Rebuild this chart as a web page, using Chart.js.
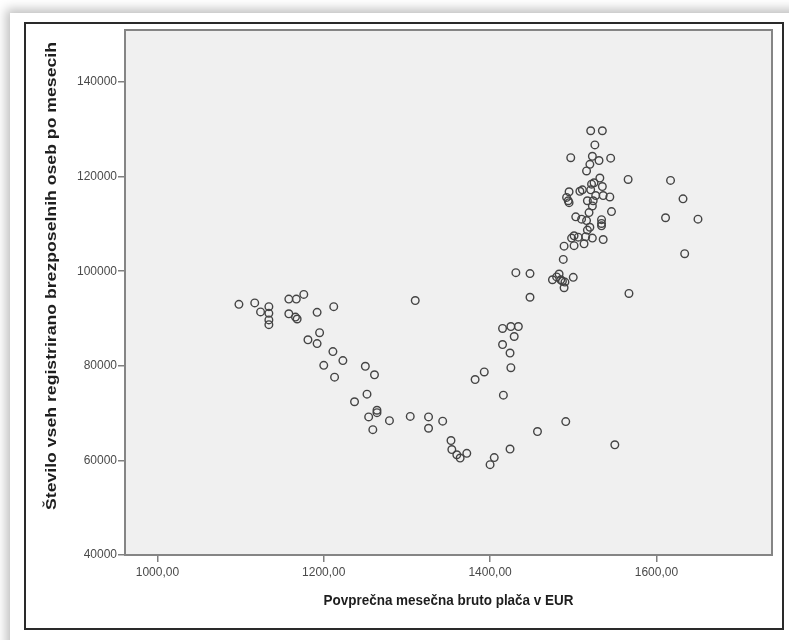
<!DOCTYPE html>
<html>
<head>
<meta charset="utf-8">
<script src="https://cdn.jsdelivr.net/npm/chart.js@4"></script>
<style>
  html, body { margin: 0; padding: 0; background: #fff; overflow: hidden; }
  #card { position: absolute; left: 10px; top: 13px; width: 820px; height: 680px; background: #fff;
          box-shadow: 0 0 10px 4px rgba(0,0,0,0.25); }
  #frame { position: absolute; left: 24px; top: 22px; width: 756px; height: 604px; border: 2px solid #2a2a2a; }
  #wrap { position: absolute; left: 0; top: 0; width: 789px; height: 640px; }
</style>
</head>
<body>
<div id="card"></div>
<div id="frame"></div>
<div id="wrap"><canvas id="chart" width="789" height="640"></canvas></div>
<script>
// Povprečna mesečna bruto plača (EUR)
const salary = [
  1098, 1117, 1124, 1134, 1134, 1134, 1134, 1158, 1167, 1176,
  1158, 1166, 1168, 1192, 1212, 1195, 1181, 1192, 1211, 1223,
  1200, 1213, 1250, 1261, 1252, 1237, 1264, 1264, 1254, 1279,
  1259, 1304, 1326, 1326, 1343, 1310, 1353, 1354, 1360, 1364,
  1372, 1405, 1400, 1424, 1457, 1491, 1550, 1382, 1393, 1416,
  1425, 1424, 1415, 1415, 1425, 1434, 1429, 1431, 1448, 1448,
  1475, 1483, 1485, 1490, 1500, 1489, 1480, 1487, 1488, 1567,
  1521, 1535, 1526, 1497, 1523, 1531, 1545, 1520, 1516, 1566,
  1617, 1532, 1525, 1522, 1535, 1495, 1492, 1494, 1495, 1508,
  1511, 1521, 1527, 1536, 1544, 1517, 1524, 1523, 1632, 1546,
  1519, 1503, 1510, 1516, 1611, 1650, 1534, 1534, 1534, 1520,
  1517, 1501, 1498, 1506, 1515, 1523, 1536, 1489, 1501, 1513,
  1634
];
// Število registrirano brezposelnih oseb
const unemployed = [
  93000, 93300, 91400, 92500, 91100, 89700, 88700, 94100, 94100, 95100,
  91000, 90300, 89900, 91300, 92500, 87000, 85500, 84700, 83000, 81100,
  80100, 77600, 79900, 78100, 74000, 72400, 70600, 70100, 69200, 68400,
  66500, 69300, 69200, 66800, 68300, 93800, 64200, 62300, 61200, 60500,
  61500, 60600, 59100, 62400, 66100, 68200, 63300, 77100, 78700, 73800,
  79600, 82700, 84500, 87900, 88300, 88300, 86200, 99700, 99500, 94500,
  98200, 99400, 98200, 97700, 98700, 96500, 98800, 97900, 102500, 95300,
  129700, 129700, 126700, 124000, 124300, 123400, 123900, 122600, 121200, 119400,
  119200, 119700, 118700, 118400, 117900, 116800, 115600, 114900, 114500, 116900,
  117200, 117200, 116000, 116000, 115700, 114900, 114900, 113800, 115300, 112600,
  112400, 111500, 111000, 110700, 111300, 111000, 110900, 110100, 109600, 109300,
  108700, 107500, 107000, 107200, 107300, 107000, 106700, 105300, 105400, 105800,
  103700
];
const xTicks = [1000, 1200, 1400, 1600];
const yTicks = [40000, 60000, 80000, 100000, 120000, 140000];

const xTitle = 'Povprečna mesečna bruto plača v EUR';
const yTitle = 'Število vseh registrirano brezposelnih oseb po mesecih';

const points = salary.map((x, i) => ({ x, y: unemployed[i] }));

// grey plot box with its border
const plotBox = {
  id: 'plotBox',
  beforeDatasetsDraw(chart) {
    const { ctx, chartArea: a } = chart;
    ctx.save();
    ctx.fillStyle = '#f0f0f0';
    ctx.fillRect(a.left, a.top, a.right - a.left, a.bottom - a.top);
    ctx.strokeStyle = '#858585';
    ctx.lineWidth = 2;
    ctx.strokeRect(a.left, a.top, a.right - a.left, a.bottom - a.top);
    ctx.restore();
  }
};

// axis titles, squeezed to the widths seen in the picture
const titles = {
  id: 'titles',
  afterDraw(chart) {
    const { ctx } = chart;
    const put = (text, cx, cy, rot, size, width) => {
      ctx.save();
      ctx.font = `bold ${size}px "Liberation Sans", Arial, sans-serif`;
      const w = ctx.measureText(text).width;
      ctx.translate(cx, cy);
      ctx.rotate(rot);
      ctx.scale(width / w, 1);
      ctx.fillStyle = '#1e1e1e';
      ctx.textAlign = 'center';
      ctx.textBaseline = 'middle';
      ctx.fillText(text, 0, 0);
      ctx.restore();
    };
    put(xTitle, 448.5, 601, 0, 15.5, 250);
    put(yTitle, 52, 276, -Math.PI / 2, 14.5, 468);
  }
};

new Chart(document.getElementById('chart'), {
  type: 'scatter',
  data: {
    datasets: [{
      data: points,
      pointRadius: 3.8,
      pointHoverRadius: 3.8,
      borderWidth: 1.4,
      borderColor: '#444',
      backgroundColor: 'rgba(0,0,0,0)'
    }]
  },
  options: {
    responsive: false,
    animation: false,
    events: [],
    layout: { padding: { left: 0, top: 30, right: 17, bottom: 0 } },
    plugins: { legend: { display: false }, tooltip: { enabled: false } },
    scales: {
      x: {
        type: 'linear',
        min: 961,
        max: 1739,
        afterBuildTicks: (s) => { s.ticks = xTicks.map(v => ({ value: v })); },
        afterFit: (s) => { s.height = 85; },
        grid: { drawOnChartArea: false, drawTicks: true, tickLength: 7, color: '#808080', lineWidth: 1.5 },
        border: { display: false },
        ticks: {
          padding: 3,
          color: '#4a4a4a',
          font: { family: '"Liberation Sans", Arial, sans-serif', size: 12 },
          callback: (v) => v.toFixed(2).replace('.', ',')
        }
      },
      y: {
        type: 'linear',
        min: 40000,
        max: 151000,
        afterBuildTicks: (s) => { s.ticks = yTicks.map(v => ({ value: v })); },
        afterFit: (s) => { s.width = 125; },
        grid: { drawOnChartArea: false, drawTicks: true, tickLength: 7, color: '#808080', lineWidth: 1.5 },
        border: { display: false },
        ticks: {
          padding: 1,
          color: '#4a4a4a',
          font: { family: '"Liberation Sans", Arial, sans-serif', size: 12 },
          callback: (v) => String(v)
        }
      }
    }
  },
  plugins: [plotBox, titles]
});
</script>
</body>
</html>
